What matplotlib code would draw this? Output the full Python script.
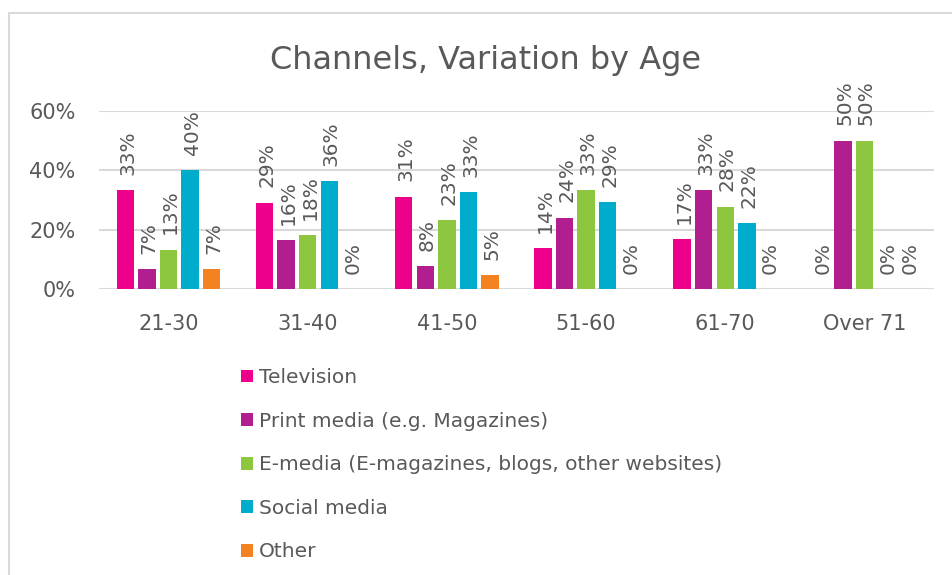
import matplotlib.pyplot as plt
import numpy as np
from matplotlib.patches import Rectangle
from matplotlib.ticker import FuncFormatter

plt.rcParams['font.family'] = ['DejaVu Sans']

age_groups = ['21-30', '31-40', '41-50', '51-60', '61-70', 'Over 71']
series = ['Television', 'Print media (e.g. Magazines)',
          'E-media (E-magazines, blogs, other websites)', 'Social media', 'Other']
television = [33.3, 29.1, 31.1, 13.8, 16.7, 0.0]
print_media = [6.7, 16.4, 7.8, 24.1, 33.3, 50.0]
e_media = [13.3, 18.2, 23.3, 33.3, 27.8, 50.0]
social_media = [40.0, 36.4, 32.6, 29.3, 22.2, 0.0]
other = [6.7, 0.0, 4.7, 0.0, 0.0, 0.0]
colors = ['#EC008C', '#B01E8F', '#8DC63F', '#00ACCC', '#F58220']

values = [television, print_media, e_media, social_media, other]
grey = '#595959'

fig = plt.figure(figsize=(9.52, 5.75), dpi=100)
fig.patches.append(Rectangle((9 / 952, -0.1), 1.2, 1.1 - 13 / 575, transform=fig.transFigure,
                             fill=False, edgecolor='#d9d9d9', linewidth=1.5))
ax = fig.add_axes([99 / 952, 1 - 289 / 575, (934 - 99) / 952, (289 - 111) / 575])

x = np.arange(len(age_groups))
pitch = 0.155
for i, (vals, name, c) in enumerate(zip(values, series, colors)):
    pos = x + (i - 2) * pitch
    v = np.array(vals) / 100
    ax.bar(pos, v, width=0.125, color=c, label=name, zorder=3)
    for p, val in zip(pos, v):
        ax.annotate('%d%%' % round(val * 100), (p, val), xytext=(1.5, 11),
                    textcoords='offset points', rotation=90, ha='center', va='bottom',
                    fontsize=14.5, color=grey, annotation_clip=False)

ax.set_xlim(-0.5, len(age_groups) - 0.5)
ax.set_ylim(0, 0.6)
ax.set_yticks([0, 0.2, 0.4, 0.6])
ax.yaxis.set_major_formatter(FuncFormatter(lambda v, _: '%d%%' % round(v * 100)))
ax.set_xticks(x)
ax.set_xticklabels(age_groups)
ax.tick_params(axis='both', length=0, labelsize=15, colors=grey)
ax.tick_params(axis='x', pad=18)
ax.tick_params(axis='y', pad=17)
ax.grid(axis='y', color='#d9d9d9', linewidth=1.5, zorder=0)
for s in ax.spines.values():
    s.set_visible(False)

fig.text(486 / 952, 1 - 60 / 575, 'Channels, Variation by Age', ha='center', va='center',
         fontsize=23, color=grey)

leg = ax.legend(loc='upper left', bbox_to_anchor=(223 / 952, 1 - 350 / 575),
                bbox_transform=fig.transFigure, frameon=False, fontsize=14.5,
                handlelength=0.6, handleheight=0.6, handletextpad=0.3, labelspacing=1.22)
for t in leg.get_texts():
    t.set_color(grey)

fig.savefig('out.png', dpi=100)
